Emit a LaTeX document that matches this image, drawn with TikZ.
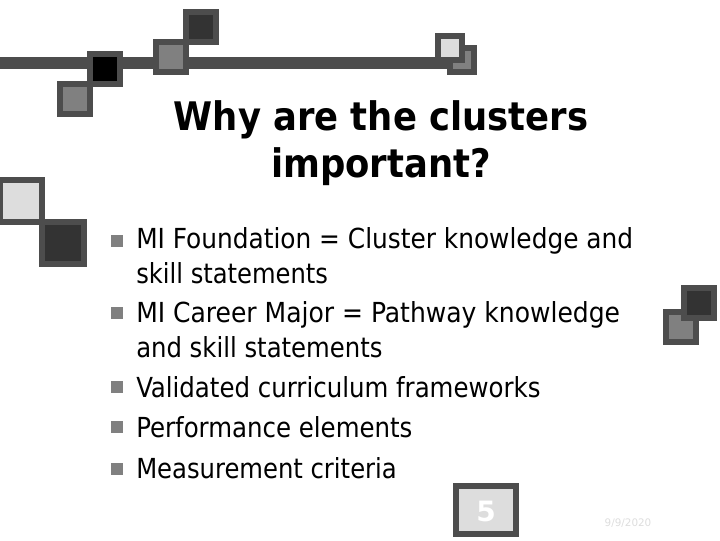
\documentclass[tikz,border=0pt]{standalone}
\usepackage{fontspec}
\setmainfont{DejaVu Sans}
\newfontfamily\condfont{DejaVu Sans Condensed}
\definecolor{edgegray}{HTML}{4D4D4D}
\definecolor{midgray}{HTML}{808080}
\definecolor{darkfill}{HTML}{333333}
\definecolor{lightfill}{HTML}{DDDDDD}
\tikzset{
  px/.style={x=0.75pt,y=-0.75pt},
  frame/.style={draw=edgegray,line width=4.5pt,fill=#1},
  bullet/.style={fill=midgray,draw=none},
  bodytext/.style={anchor=west,inner sep=0pt,transform shape,font=\condfont\fontsize{20.7}{20.7}\selectfont},
}
\newcommand{\sq}[5]{\draw[frame=#5] (#1+3,#2+3) rectangle (#3-3,#4-3);}
\begin{document}
\begin{tikzpicture}[px]
\useasboundingbox (0,0) rectangle (720,540);
\fill[edgegray] (0,57) rectangle (447,69);
\sq{57}{81}{93}{117}{midgray}
\sq{87}{51}{123}{87}{black}
\sq{183}{9}{219}{45}{darkfill}
\sq{153}{39}{189}{75}{midgray}
\sq{447}{45}{477}{75}{midgray}
\sq{435}{33}{465}{63}{lightfill}
\sq{-3}{177}{45}{225}{lightfill}
\sq{39}{219}{87}{267}{darkfill}
\sq{663}{309}{699}{345}{midgray}
\sq{681}{285}{717}{321}{darkfill}
\sq{453}{483}{519}{537}{lightfill}
\node[font=\bfseries\fontsize{21}{21}\selectfont,text=white,inner sep=0pt] (pagenum) at (486,511) {5};
\node[font=\fontsize{7.8}{7.8}\selectfont,text=lightfill,inner sep=0pt] (datelabel) at (628,523) {9/9/2020};
\node[font=\condfont\bfseries\fontsize{29.5}{34}\selectfont,align=center,inner sep=0pt] (title) at (381,143) {Why are the clusters\\[1.5pt]important?};
\foreach \y in {235,307,381,421,463}{\fill[bullet] (111,\y) rectangle +(12,12);}
\node[bodytext] (l1) at (136,240.5) {MI Foundation = Cluster knowledge and};
\node[bodytext,xscale=0.975] (l2) at (136,273.5) {skill statements};
\node[bodytext,xscale=1.008] (l3) at (136,315) {MI Career Major = Pathway knowledge};
\node[bodytext,xscale=0.98] (l4) at (136,347.5) {and skill statements};
\node[bodytext,xscale=0.985] (l5) at (136,387.5) {Validated curriculum frameworks};
\node[bodytext,xscale=0.985] (l6) at (136,427.5) {Performance elements};
\node[bodytext,xscale=0.978] (l7) at (136,468.5) {Measurement criteria};
\end{tikzpicture}
\end{document}
